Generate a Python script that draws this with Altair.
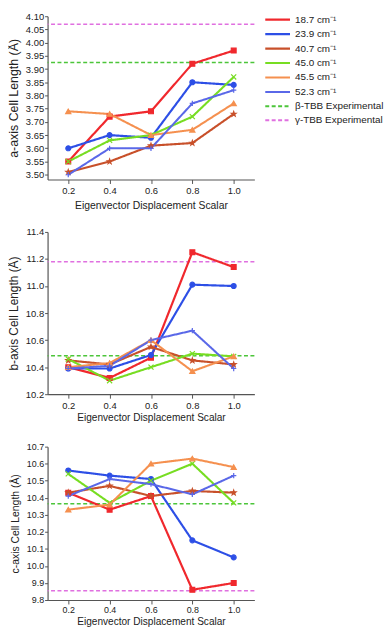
import altair as alt
import pandas as pd

# ---------------- data ----------------
x_vals = [0.2, 0.4, 0.6, 0.8, 1.0]

series_names = ["18.7 cm⁻¹", "23.9 cm⁻¹", "40.7 cm⁻¹", "45.0 cm⁻¹",
                "45.5 cm⁻¹", "52.3 cm⁻¹", "β-TBB Experimental", "γ-TBB Experimental"]
series_colors = ["#f0282d", "#2d4fe6", "#c8502a", "#77dd22",
                 "#f5904f", "#5a68e8", "#4cc53a", "#e070e0"]

# a-axis
a_18_7 = [3.55, 3.72, 3.74, 3.92, 3.97]
a_23_9 = [3.60, 3.65, 3.64, 3.85, 3.84]
a_40_7 = [3.51, 3.55, 3.61, 3.62, 3.73]
a_45_0 = [3.55, 3.63, 3.65, 3.72, 3.87]
a_45_5 = [3.74, 3.73, 3.65, 3.67, 3.77]
a_52_3 = [3.50, 3.60, 3.60, 3.77, 3.82]
a_exp = [3.925, 4.07]   # beta, gamma

# b-axis
b_18_7 = [10.40, 10.32, 10.47, 11.25, 11.14]
b_23_9 = [10.39, 10.39, 10.49, 11.01, 11.00]
b_40_7 = [10.45, 10.42, 10.55, 10.45, 10.42]
b_45_0 = [10.46, 10.30, 10.40, 10.50, 10.48]
b_45_5 = [10.40, 10.43, 10.60, 10.37, 10.48]
b_52_3 = [10.39, 10.41, 10.60, 10.67, 10.39]
b_exp = [10.485, 11.18]

# c-axis
c_18_7 = [10.43, 10.33, 10.41, 9.86, 9.90]
c_23_9 = [10.56, 10.53, 10.51, 10.15, 10.05]
c_40_7 = [10.43, 10.47, 10.41, 10.44, 10.43]
c_45_0 = [10.54, 10.37, 10.50, 10.60, 10.37]
c_45_5 = [10.33, 10.36, 10.60, 10.63, 10.58]
c_52_3 = [10.41, 10.51, 10.48, 10.42, 10.53]
c_exp = [10.365, 9.855]

a_ticks = [3.50, 3.55, 3.60, 3.65, 3.70, 3.75, 3.80, 3.85, 3.90, 3.95, 4.00, 4.05, 4.10]
b_ticks = [10.2, 10.4, 10.6, 10.8, 11.0, 11.2, 11.4]
c_ticks = [9.8, 9.9, 10.0, 10.1, 10.2, 10.3, 10.4, 10.5, 10.6, 10.7]

# ---------------- styling ----------------
FONT = "Liberation Sans"
point_series = series_names[:6]
star = ("M0,-1L0.235,-0.324L0.951,-0.309L0.38,0.124L0.588,0.809L0,0.4"
        "L-0.588,0.809L-0.38,0.124L-0.951,-0.309L-0.235,-0.324Z")
xshape = "M-1,-1L1,1M-1,1L1,-1"
plus = "M-1,0L1,0M0,-1L0,1"
shapes = ["square", "circle", star, xshape, "triangle-up", plus]
shape_sizes = [24, 28, 36, 22, 24, 22]
widths = [2.2, 2.0, 1.0, 1.0, 1.0, 1.0, 1.4, 1.4]
dashes = [[1, 0]] * 6 + [[4, 2.5]] * 2

legend = alt.Legend(title=None, orient="none", legendX=226, legendY=-3,
                    symbolType="M-2.5,0L2.5,0", symbolSize=100, symbolStrokeWidth=1.6,
                    labelFont=FONT, labelFontSize=10, labelColor="#222",
                    rowPadding=2.6, labelOffset=11, symbolOffset=0, padding=0)

color_enc = alt.Color("series:N", scale=alt.Scale(domain=series_names, range=series_colors),
                      legend=legend)
dash_enc = alt.StrokeDash("series:N", scale=alt.Scale(domain=series_names, range=dashes),
                          legend=legend)
width_enc = alt.StrokeWidth("series:N", scale=alt.Scale(domain=series_names, range=widths),
                            legend=None)


def make_panel(lists, exp, title, domain, ticks, fmt, height, tfs, ytfs, lfs, tpad):
    rows = []
    for name, vals in zip(point_series, lists):
        for x, v in zip(x_vals, vals):
            rows.append({"x": x, "value": v, "series": name})
    df = pd.DataFrame(rows)
    exp_df = pd.DataFrame({"value": exp, "series": series_names[6:]})

    xaxis = alt.Axis(values=x_vals, format=".1f", title="Eigenvector Displacement Scalar",
                     titleFontSize=tfs, labelFontSize=lfs, titlePadding=tpad,
                     tickSize=4, labelPadding=2, labelOverlap=False)
    yaxis = alt.Axis(values=ticks, format=fmt, title=title, titleFontSize=ytfs,
                     labelFontSize=lfs, tickSize=3, labelPadding=1,
                     labelOverlap=False, labelBound=False, labelFlush=False,
                     minExtent=24, maxExtent=24, titlePadding=3)
    xscale = alt.Scale(domain=[0.1, 1.1], nice=False, zero=False)
    yscale = alt.Scale(domain=domain, nice=False, zero=False)

    rules = alt.Chart(exp_df).mark_rule(strokeWidth=1.5).encode(
        y=alt.Y("value:Q", scale=yscale, axis=yaxis), color=color_enc, strokeDash=dash_enc)
    lines = alt.Chart(df).mark_line(strokeJoin="miter").encode(
        x=alt.X("x:Q", scale=xscale, axis=xaxis),
        y=alt.Y("value:Q", scale=yscale, axis=yaxis),
        color=color_enc, strokeDash=dash_enc, strokeWidth=width_enc,
        detail="series:N")
    pts = alt.Chart(df).mark_point(filled=True, strokeWidth=1.2, opacity=1).encode(
        x=alt.X("x:Q", scale=xscale, axis=xaxis),
        y=alt.Y("value:Q", scale=yscale, axis=yaxis),
        color=alt.Color("series:N", scale=alt.Scale(domain=series_names, range=series_colors),
                        legend=None),
        stroke=alt.Stroke("series:N", scale=alt.Scale(domain=point_series,
                                                      range=series_colors[:6]), legend=None),
        shape=alt.Shape("series:N", scale=alt.Scale(domain=point_series, range=shapes),
                        legend=None),
        size=alt.Size("series:N", scale=alt.Scale(domain=point_series, range=shape_sizes),
                      legend=None),
    )
    return alt.layer(rules, lines, pts).properties(width=209, height=height)


pa = make_panel([a_18_7, a_23_9, a_40_7, a_45_0, a_45_5, a_52_3], a_exp,
                "a-axis Cell Length (Å)", [3.482, 4.10], a_ticks, ".2f", 165, 10.5, 12.5, 9.5, 6)
pb = make_panel([b_18_7, b_23_9, b_40_7, b_45_0, b_45_5, b_52_3], b_exp,
                "b-axis Cell Length (Å)", [10.2, 11.4], b_ticks, ".1f", 164, 10.2, 12, 9.5, 3)
pc = make_panel([c_18_7, c_23_9, c_40_7, c_45_0, c_45_5, c_52_3], c_exp,
                "c-axis Cell Length (Å)", [9.8, 10.7], c_ticks, ".1f", 155, 10.2, 10.5, 9, 2)

chart = alt.vconcat(pa, pb, pc, spacing=53, bounds="flush").properties(
    padding=0
).configure_view(stroke=None).configure_axis(
    labelFont=FONT, titleFont=FONT, grid=False, domainColor="#555", tickColor="#555",
    labelColor="#222", titleColor="#222", titleFontWeight="normal", domainWidth=1.2,
    labelOverlap=False
).configure_legend(labelFont=FONT)

chart.save("out.html", embed_options={"renderer": "svg", "actions": False})
